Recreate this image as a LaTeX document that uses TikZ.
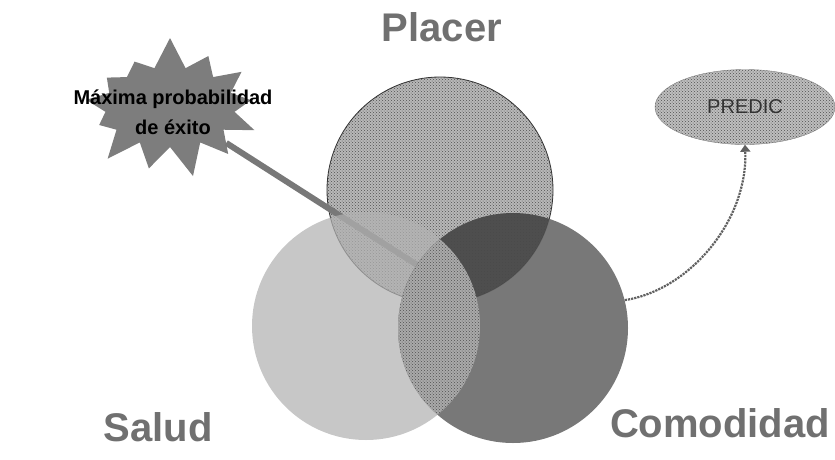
\documentclass[tikz,border=0pt]{standalone}
\usepackage{fontspec}
\setmainfont{Liberation Sans}
\usetikzlibrary{arrows.meta,positioning,shapes.geometric,shapes.symbols,patterns}
\definecolor{vnlabel}{RGB}{112,112,112}
\definecolor{vnstar}{RGB}{125,125,125}
\definecolor{vnline}{RGB}{120,120,120}
\definecolor{vnplacer}{RGB}{184,184,184}
\definecolor{vndots}{RGB}{80,80,80}
\definecolor{vnsalud}{RGB}{178,178,178}
\definecolor{vncomo}{RGB}{108,108,108}
\definecolor{vnmix}{RGB}{170,170,170}
\definecolor{vnpredic}{RGB}{190,190,190}

\begin{document}
\begin{tikzpicture}[x=1pt, y=-1pt,
    setname/.style={font=\fontsize{40}{44}\selectfont\bfseries, text=vnlabel},
    disc/.style={circle, inner sep=0pt, draw=none},
    dotted fill/.style={preaction={fill=#1}, pattern=crosshatch dots, pattern color=vndots},
    flow/.style={densely dotted, line width=2.2pt, draw=vnline!80!black, -{Triangle[width=10pt,length=7pt]}}]
  \useasboundingbox (0,0) rectangle (835,459);

  \node[starburst, starburst points=13, starburst point height=32pt, random starburst=7,
        minimum width=194pt, minimum height=144pt, fill=vnstar, draw=none] (burst) at (170,107) {};

  \node[disc, minimum size=226pt, dotted fill=vnplacer, draw=black!80, line width=0.8pt] (placer) at (440,190) {};
  \coordinate (hub) at (425,270);
  \draw[vnline, line width=6pt] (burst) -- (hub);

  \node[disc, minimum size=228pt, fill=vnsalud, fill opacity=0.72] (salud) at (366,326) {};
  \node[disc, minimum size=230pt, fill=vncomo, fill opacity=0.92] (como) at (513,328) {};

  \begin{scope}
    \clip (placer.center) circle (113pt);
    \fill[black, opacity=0.3] (como.center) circle (115pt);
  \end{scope}
  \begin{scope}
    \clip (salud.center) circle (114pt);
    \fill[dotted fill=vnmix] (como.center) circle (115pt);
  \end{scope}

  \node[font=\fontsize{20}{30}\selectfont\bfseries, align=center] (goal) at (173,112) {Máxima probabilidad\\de éxito};

  \node[ellipse, minimum width=180pt, minimum height=75pt, dotted fill=vnpredic, draw=gray,
        font=\fontsize{20}{24}\selectfont, text=black!80] (predic) at (745,107) {PREDIC};
  \draw[flow] (como.14) .. controls (690,290) and (748,220) .. (predic.south);

  \node[setname] (placerlbl) at (442,27) {Placer};
  \node[setname] (saludlbl) at (158,427) {Salud};
  \node[setname] (comolbl) at (720,423) {Comodidad};
\end{tikzpicture}
\end{document}
